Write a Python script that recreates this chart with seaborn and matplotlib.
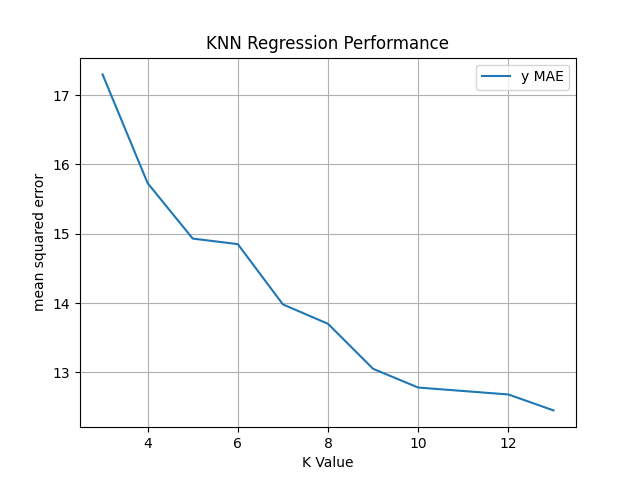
import matplotlib
matplotlib.use("Agg")
import matplotlib.pyplot as plt
import seaborn as sns
import pandas as pd

k_values = [3, 4, 5, 6, 7, 8, 9, 10, 11, 12, 13]
mae = [17.30, 15.73, 14.93, 14.85, 13.98, 13.70, 13.05, 12.78, 12.73, 12.68, 12.45]

df = pd.DataFrame({"K Value": k_values, "mae": mae})

fig, ax = plt.subplots(figsize=(6.4, 4.8), dpi=100)
sns.lineplot(data=df, x="K Value", y="mae", ax=ax, label="y MAE")
ax.set_title("KNN Regression Performance")
ax.set_xlabel("K Value")
ax.set_ylabel("mean squared error")
ax.grid(True)
ax.legend(loc="upper right")
fig.savefig("out.png")
